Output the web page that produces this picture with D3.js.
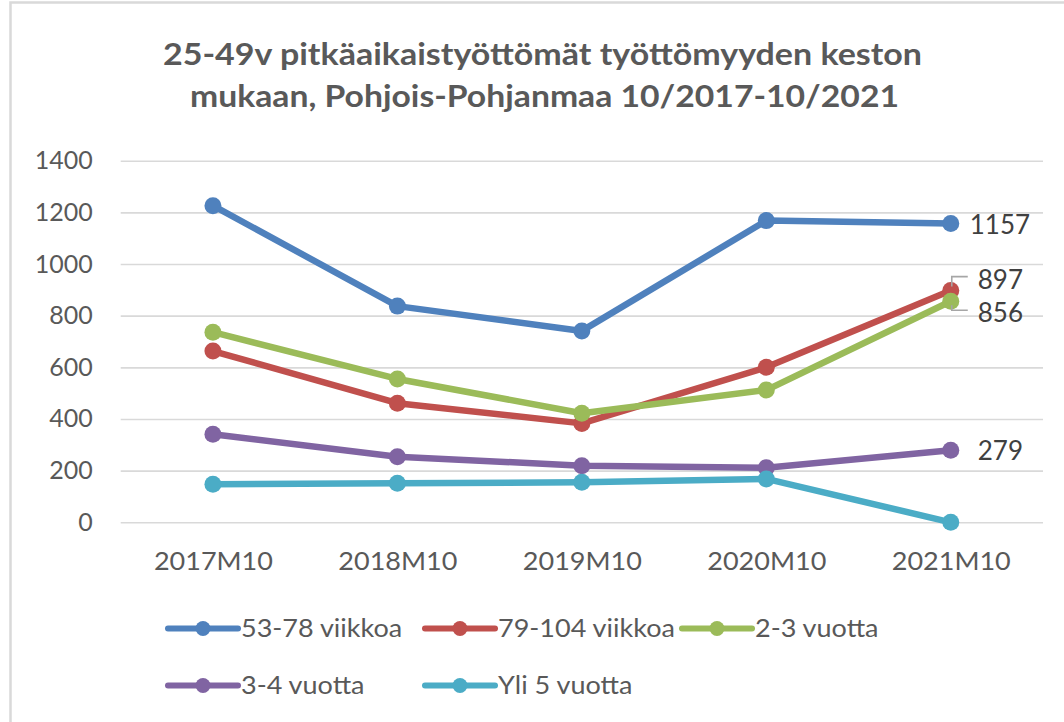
<!DOCTYPE html>
<html>
<head>
<meta charset="utf-8">
<script src="https://cdn.jsdelivr.net/npm/d3@7"></script>
<style>
  html, body { margin: 0; padding: 0; background: #fff; }
  svg { display: block; font-family: Lato, "Open Sans", sans-serif; }
</style>
</head>
<body>
<svg id="chart" width="1064" height="722"></svg>
<script>
const categories = ["2017M10", "2018M10", "2019M10", "2020M10", "2021M10"];
const seriesNames = ["53-78 viikkoa", "79-104 viikkoa", "2-3 vuotta", "3-4 vuotta", "Yli 5 vuotta"];
const weeks53to78 = [1226, 837, 741, 1168, 1157];
const weeks79to104 = [663, 461, 383, 600, 897];
const years2to3 = [736, 555, 422, 512, 856];
const years3to4 = [341, 254, 219, 211, 279];
const over5years = [147, 151, 155, 168, 0];
const yTicks = [0, 200, 400, 600, 800, 1000, 1200, 1400];
const titleLines = ["25-49v pitkäaikaistyöttömät työttömyyden keston", "mukaan, Pohjois-Pohjanmaa 10/2017-10/2021"];
const colors = ["#4F81BD", "#C0504D", "#9BBB59", "#8064A2", "#4BACC6"];

const seriesValues = [weeks53to78, weeks79to104, years2to3, years3to4, over5years];
const series = seriesNames.map((name, i) => ({ name, color: colors[i], values: seriesValues[i] }));

const svg = d3.select("#chart");
const W = 1064, H = 722;

// widen text horizontally (Calibri-like proportions) while keeping glyph height
function stretch(sel, factor) {
  sel.each(function () {
    const len = this.getComputedTextLength();
    d3.select(this).attr("textLength", len * factor).attr("lengthAdjust", "spacingAndGlyphs");
  });
}

svg.append("rect").attr("x", 0).attr("y", 0).attr("width", W).attr("height", H).attr("fill", "#fff");
// chart frame
svg.append("rect").attr("x", 10.5).attr("y", 2.5).attr("width", W + 10).attr("height", H + 10)
  .attr("fill", "none").attr("stroke", "#d9d9d9").attr("stroke-width", 2.5);

const plot = { left: 120.7, right: 1043, top: 160.7, bottom: 522.3 };

const x = d3.scalePoint().domain(categories).range([plot.left, plot.right]).padding(0.5);
const y = d3.scaleLinear().domain([0, 1400]).range([plot.bottom, plot.top]);

// Title
const titleWidths = [759, 709];
const title = svg.append("g").attr("class", "title");
title.selectAll("text").data(titleLines).join("text")
  .attr("x", (d, i) => 542.5 + i * 2)
  .attr("y", (d, i) => 65 + i * 41.7)
  .attr("text-anchor", "middle")
  .attr("font-weight", "bold")
  .attr("font-size", 30)
  .attr("fill", "#595959")
  .attr("textLength", (d, i) => titleWidths[i])
  .attr("lengthAdjust", "spacingAndGlyphs")
  .text(d => d);

// Gridlines
const grid = svg.append("g").attr("transform", `translate(${plot.left},0)`)
  .call(d3.axisLeft(y).tickValues(yTicks).tickSize(-(plot.right - plot.left)).tickFormat(""));
grid.select(".domain").remove();
grid.selectAll(".tick line").attr("stroke", "#d9d9d9").attr("stroke-width", 1.6);

// Y axis labels
const yAxis = svg.append("g").attr("transform", `translate(${plot.left},0)`)
  .call(d3.axisLeft(y).tickValues(yTicks).tickSize(0).tickPadding(28).tickFormat(d3.format("d")));
yAxis.select(".domain").remove();
yAxis.selectAll("text").attr("font-family", "Lato, sans-serif").attr("font-size", 25).attr("fill", "#595959");

// X axis labels
const xAxis = svg.append("g").attr("transform", `translate(0,${plot.bottom})`)
  .call(d3.axisBottom(x).tickSize(0).tickPadding(30));
xAxis.select(".domain").remove();
xAxis.selectAll("text").attr("font-family", "Lato, sans-serif").attr("font-size", 25).attr("fill", "#595959");
stretch(xAxis.selectAll("text"), 1.08);

// Lines
const line = d3.line().x((d, i) => x(categories[i])).y(d => y(d));
const sg = svg.append("g").selectAll("g").data(series).join("g");
sg.append("path")
  .attr("d", d => line(d.values))
  .attr("fill", "none")
  .attr("stroke", d => d.color)
  .attr("stroke-width", 6.5)
  .attr("stroke-linejoin", "round")
  .attr("stroke-linecap", "round");
sg.selectAll("circle").data(d => d.values.map((v, i) => ({ v, i, color: d.color }))).join("circle")
  .attr("cx", d => x(categories[d.i]))
  .attr("cy", d => y(d.v))
  .attr("r", 8.5)
  .attr("fill", d => d.color);

// Data labels on last point (not for zero)
const last = categories.length - 1;
const lastX = x(categories[last]);
const labelG = svg.append("g");
const labelOffsets = [{ dx: 19, dy: 1 }, { dx: 27, dy: -11 }, { dx: 27, dy: 12 }, { dx: 27, dy: 1 }, null];
series.forEach((s, i) => {
  const off = labelOffsets[i];
  const v = s.values[last];
  if (!off || v === 0) return;
  labelG.append("text")
    .attr("x", lastX + off.dx)
    .attr("y", y(v) + off.dy)
    .attr("dy", "0.35em")
    .attr("font-size", 26)
    .attr("fill", "#404040")
    .text(d3.format("d")(v));
});
// leader lines for 897 and 856
const leader = (v, dir, len) => {
  const py = y(v);
  const ey = py + dir * len;
  labelG.append("path")
    .attr("d", `M${lastX + 1},${py + dir * 4} V${ey} H${lastX + 17}`)
    .attr("fill", "none").attr("stroke", "#a6a6a6").attr("stroke-width", 1.6);
};
leader(weeks79to104[last], -1, 14);
leader(years2to3[last], 1, 9);

// Legend
const legendColStart = 168, legendColW = 257, legendRowY = [628.5, 685.5], perRow = 3;
const lg = svg.append("g").selectAll("g").data(series).join("g")
  .attr("transform", (d, i) => `translate(${legendColStart + (i % perRow) * legendColW},${legendRowY[Math.floor(i / perRow)]})`);
lg.append("line").attr("x1", 0).attr("x2", 70).attr("y1", 0).attr("y2", 0)
  .attr("stroke", d => d.color).attr("stroke-width", 6).attr("stroke-linecap", "round");
lg.append("circle").attr("cx", 35).attr("cy", 0).attr("r", 7.5).attr("fill", d => d.color);
const lt = lg.append("text").attr("x", 73).attr("y", 0).attr("dy", "0.35em")
  .attr("font-size", 25).attr("fill", "#595959").text(d => d.name);
stretch(lt, 1.08);
</script>
</body>
</html>
